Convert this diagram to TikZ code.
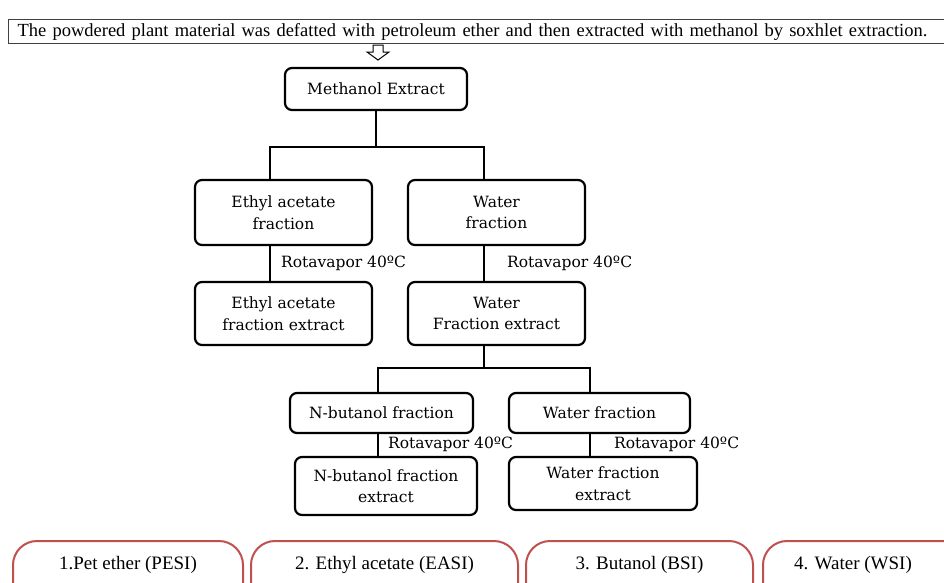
\documentclass[tikz,border=0pt]{standalone}
\usepackage{fontspec}
\setmainfont{Liberation Serif}
\newfontfamily\boxfont{DejaVu Serif}
\definecolor{pillred}{HTML}{C0504D}
\definecolor{topgray}{HTML}{404040}
\begin{document}
\begin{tikzpicture}[x=1pt,y=-1pt,
 box/.style={draw, line width=2.2pt, rounded corners=7pt, align=center, font=\boxfont\fontsize{15.5}{21.5}\selectfont, inner sep=0pt},
 link/.style={line width=2.2pt},
 lab/.style={font=\boxfont\fontsize{15.5}{20}\selectfont, anchor=west, inner sep=0pt},
 pill/.style={draw=pillred, line width=2pt, rounded corners=24pt, inner sep=0pt, minimum height=80pt, anchor=north west},
 pilltext/.style={font=\fontsize{19}{20}\selectfont, inner sep=0pt}]
\useasboundingbox (0,0) rectangle (944,582);
\clip (0,0) rectangle (944,582);
% top box
\node[draw=topgray, line width=1.2pt, anchor=west, text width=940pt, inner xsep=9pt, minimum height=24pt, inner ysep=0pt, align=left, font=\fontsize{18.5}{20}\selectfont] (top) at (8,31.5) {The powdered plant material was defatted with petroleum ether and then extracted with methanol by soxhlet extraction.};
% hollow arrow
\draw[line width=1pt, fill=white] (373,45) -- (383,45) -- (383,52) -- (389,52) -- (378,60) -- (367,52) -- (373,52) -- cycle;
% boxes
\node[box, minimum width=182pt, minimum height=42pt] (me) at (376,89) {Methanol Extract};
\node[box, minimum width=177pt, minimum height=65pt] (ea) at (283.5,212.5) {Ethyl acetate\\fraction};
\node[box, minimum width=177pt, minimum height=65pt] (wf) at (496.5,212.5) {Water\\fraction};
\node[box, minimum width=177pt, minimum height=63pt] (eae) at (283.5,313.5) {Ethyl acetate\\fraction extract};
\node[box, minimum width=177pt, minimum height=63pt] (wfe) at (496.5,313.5) {Water\\Fraction extract};
\node[box, minimum width=183pt, minimum height=40pt] (nb) at (381.5,413) {N-butanol fraction};
\node[box, minimum width=181pt, minimum height=40pt] (wf2) at (599.5,413) {Water fraction};
\node[box, minimum width=182pt, minimum height=58pt] (nbe) at (386,486) {N-butanol fraction\\extract};
\node[box, minimum width=188pt, minimum height=53pt] (wfe2) at (603,483.5) {Water fraction\\extract};
% connectors
\coordinate (j1) at (376,147);
\coordinate (j2) at (484,368);
\draw[link] (me.south) -- (j1);
\draw[link] ([xshift=-13.5pt]ea.north) |- (j1) -| ([xshift=-12.5pt]wf.north);
\draw[link] ([xshift=-13.5pt]ea.south) -- ([xshift=-13.5pt]eae.north);
\draw[link] ([xshift=-12.5pt]wf.south) -- ([xshift=-12.5pt]wfe.north);
\draw[link] ([xshift=-12.5pt]wfe.south) -- (j2);
\draw[link] ([xshift=-3.5pt]nb.north) |- (j2) -| ([xshift=-9.5pt]wf2.north);
\draw[link] ([xshift=-3.5pt]nb.south) -- ([xshift=-3.5pt]nb.south |- nbe.north);
\draw[link] ([xshift=-9.5pt]wf2.south) -- ([xshift=-9.5pt]wf2.south |- wfe2.north);
% labels
\node[lab] (r1) at (281,263) {Rotavapor 40ºC};
\node[lab] (r2) at (507,263) {Rotavapor 40ºC};
\node[lab] (r3) at (388,444) {Rotavapor 40ºC};
\node[lab] (r4) at (614,444) {Rotavapor 40ºC};
% bottom pills
\node[pill, minimum width=230pt] (p1) at (12,540) {};
\node[pill, minimum width=267pt] (p2) at (250,540) {};
\node[pill, minimum width=227pt] (p3) at (525,540) {};
\node[pill, minimum width=230pt] (p4) at (762,540) {};
\node[pilltext] (t1) at ([yshift=-25pt]p1.north) {1.Pet ether (PESI)};
\node[pilltext] (t2) at ([yshift=-25pt]p2.north) {2. Ethyl acetate (EASI)};
\node[pilltext] (t3) at ([yshift=-25pt]p3.north) {3. Butanol (BSI)};
\node[pilltext] (t4) at (853,565) {4. Water (WSI)};
\end{tikzpicture}
\end{document}
